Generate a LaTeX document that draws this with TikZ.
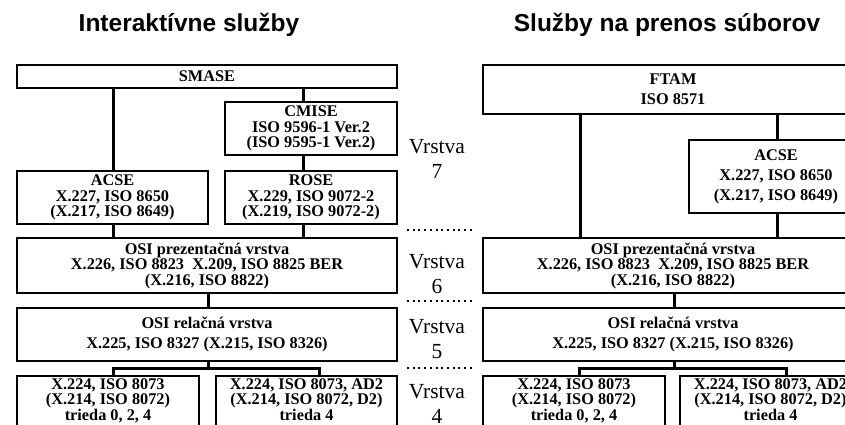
\documentclass[tikz,border=0pt]{standalone}
\usepackage{fontspec}
\setmainfont{Liberation Serif}
\newfontfamily\titlefont{Liberation Sans}
\begin{document}
\begin{tikzpicture}[x=1pt,y=-1pt,
  box/.style={draw, line width=2.8pt, outer sep=0pt, inner sep=0pt, align=center},
  tight/.style={font=\bfseries\fontsize{16.3}{15.5}\selectfont},
  loose/.style={font=\bfseries\fontsize{16.3}{20}\selectfont},
  boxtxt/.style={align=center, inner sep=0pt, font=\bfseries\fontsize{16.3}{15.5}\selectfont},
  conn/.style={line width=3pt},
  sepline/.style={line width=2pt, dash pattern=on 2pt off 3.7pt},
  vr/.style={font=\fontsize{21.5}{25}\selectfont, align=center, inner sep=0pt},
  ttl/.style={font=\titlefont\bfseries\fontsize{24.5}{28}\selectfont, inner sep=0pt}]
\useasboundingbox (0,0) rectangle (845,425);
\clip (0,0) rectangle (845,425);

% titles
\node[ttl, anchor=base] (ttlL) at (189,32) {Interaktívne služby};
\node[ttl, anchor=base] (ttlR) at (667,32) {Služby na prenos súborov};

% ---------- left diagram ----------
\node[box, tight, minimum width=380pt, minimum height=23pt] (smase) at (207,76.5) {SMASE};
\node[box, tight, minimum width=172pt, minimum height=53pt] (cmise) at (311,128.5) {CMISE\\ISO 9596-1 Ver.2\\(ISO 9595-1 Ver.2)};
\node[box, tight, minimum width=191pt, minimum height=53pt] (acse) at (112.5,197.5) {ACSE\\X.227, ISO 8650\\(X.217, ISO 8649)};
\node[box, tight, minimum width=172pt, minimum height=53pt] (rose) at (311,197.5) {ROSE\\X.229, ISO 9072-2\\(X.219, ISO 9072-2)};
\node[box, tight, minimum width=380pt, minimum height=55pt] (prez) at (207,265.5) {OSI prezentačná vrstva\\X.226, ISO 8823\ \ X.209, ISO 8825 BER\\(X.216, ISO 8822)};
\node[box, loose, minimum width=380pt, minimum height=53pt] (rel) at (207,334.5) {OSI relačná vrstva\\X.225, ISO 8327 (X.215, ISO 8326)};
\node[box, minimum width=182pt, minimum height=104pt] (t1) at (108,428) {};
\node[box, minimum width=181pt, minimum height=104pt] (t2) at (306.5,428) {};
\node[boxtxt, anchor=north] (t1t) at ([yshift=-2pt]t1.north) {X.224, ISO 8073\\(X.214, ISO 8072)\\trieda 0, 2, 4};
\node[boxtxt, anchor=north] (t2t) at ([yshift=-2pt]t2.north) {X.224, ISO 8073, AD2\\(X.214, ISO 8072, D2)\\trieda 4};

\coordinate (jL) at (208,368);
\draw[conn] (smase.south -| 113,0) -- (acse.north -| 113,0);
\draw[conn] (smase.south -| 303,0) -- (cmise.north -| 303,0);
\draw[conn] (cmise.south -| 303,0) -- (rose.north -| 303,0);
\draw[conn] (acse.south -| 113,0) -- (prez.north -| 113,0);
\draw[conn] (rose.south -| 303,0) -- (prez.north -| 303,0);
\draw[conn] (prez.south -| 208,0) -- (rel.north -| 208,0);
\draw[conn] (rel.south -| jL) -- (jL);
\draw[conn] (t1.north -| 113,0) |- (jL) -| (t2.north -| 319,0);

% ---------- right diagram ----------
\node[box, loose, minimum width=380pt, minimum height=49pt] (ftam) at (673,89.5) {FTAM\\ISO 8571};
\node[box, loose, minimum width=174pt, minimum height=73pt] (acse2) at (776,176.5) {ACSE\\X.227, ISO 8650\\(X.217, ISO 8649)};
\node[box, tight, minimum width=380pt, minimum height=55pt] (prez2) at (673,265.5) {OSI prezentačná vrstva\\X.226, ISO 8823\ \ X.209, ISO 8825 BER\\(X.216, ISO 8822)};
\node[box, loose, minimum width=380pt, minimum height=53pt] (rel2) at (673,334.5) {OSI relačná vrstva\\X.225, ISO 8327 (X.215, ISO 8326)};
\node[box, minimum width=182pt, minimum height=104pt] (t3) at (574,428) {};
\node[box, minimum width=181pt, minimum height=104pt] (t4) at (770.5,428) {};
\node[boxtxt, anchor=north] (t3t) at ([yshift=-2pt]t3.north) {X.224, ISO 8073\\(X.214, ISO 8072)\\trieda 0, 2, 4};
\node[boxtxt, anchor=north] (t4t) at ([yshift=-2pt]t4.north) {X.224, ISO 8073, AD2\\(X.214, ISO 8072, D2)\\trieda 4};

\coordinate (jR) at (674,368);
\draw[conn] (ftam.south -| 580,0) -- (prez2.north -| 580,0);
\draw[conn] (ftam.south -| 777,0) -- (acse2.north -| 777,0);
\draw[conn] (acse2.south -| 777,0) -- (prez2.north -| 777,0);
\draw[conn] (prez2.south -| 674,0) -- (rel2.north -| 674,0);
\draw[conn] (rel2.south -| jR) -- (jR);
\draw[conn] (t3.north -| 579,0) |- (jR) -| (t4.north -| 786,0);

% ---------- layer labels ----------
\node[vr, anchor=north] (v7) at (437,139.5) {Vrstva\\7};
\node[vr, anchor=north] (v6) at (437,254) {Vrstva\\6};
\node[vr, anchor=north] (v5) at (437,319) {Vrstva\\5};
\node[vr, anchor=north] (v4) at (437,384) {Vrstva\\4};
\draw[sepline] (407,230) -- (475,230);
\draw[sepline] (407,301) -- (475,301);
\draw[sepline] (407,368) -- (475,368);
\end{tikzpicture}
\end{document}
